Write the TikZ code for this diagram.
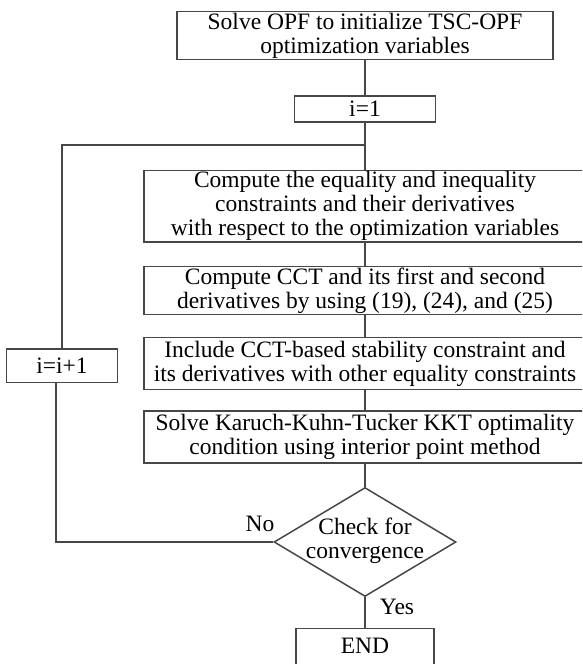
\documentclass[tikz,border=0pt]{standalone}
\usepackage{fontspec}
\setmainfont{Liberation Serif}
\usetikzlibrary{shapes.geometric}
\begin{document}
\begin{tikzpicture}[x=1pt,y=-1pt,
  line/.style={draw=black!72, line width=1.5pt},
  txt/.style={font=\fontsize{23.5}{24}\selectfont},
  stepbox/.style={line, txt, rectangle, inner sep=0pt, align=center},
  lbl/.style={txt, inner sep=0pt},
]
\useasboundingbox (0,0) rectangle (582,664);
\clip (0,0) rectangle (582,664);

% main column
\node[stepbox, minimum width=376pt, minimum height=47.6pt] (init) at (365,35.5)
  {Solve OPF to initialize TSC-OPF\\optimization variables};
\node[stepbox, minimum width=141pt, minimum height=25.7pt] (i1) at (365,108.9) {i=1};
\node[stepbox, minimum width=442pt, minimum height=71.5pt] (eq) at (365,206.3)
  {Compute the equality and inequality\\constraints and their derivatives\\with respect to the optimization variables};
\node[stepbox, minimum width=442pt, minimum height=48pt] (cct) at (365,290.5)
  {Compute CCT and its first and second\\derivatives by using (19), (24), and (25)};
\node[stepbox, minimum width=442pt, minimum height=52pt] (incl) at (365,363.5)
  {Include CCT-based stability constraint and\\its derivatives with other equality constraints};
\node[stepbox, minimum width=442pt, minimum height=52pt] (kkt) at (365,437)
  {Solve Karuch-Kuhn-Tucker KKT optimality\\condition using interior point method};
\node[line, txt, diamond, inner sep=0pt, shape aspect=1.67,
      minimum width=182pt, minimum height=109pt] (chk) at (365,542)
  {\raisebox{-6pt}[0pt][0pt]{\begin{tabular}{@{}c@{}}Check for\\convergence\end{tabular}}};
\node[stepbox, anchor=north, minimum width=138pt, text height=23pt, text depth=40pt,
      inner ysep=2.5pt] (end) at (365,627.5) {END};

% loop counter
\node[stepbox, minimum width=110.6pt, minimum height=33.7pt] (inc) at (62,365.8) {i=i+1};
\coordinate (join) at (365,145);

% labels
\node[lbl] (no) at (260,524) {No};
\node[lbl] (yes) at (397,607) {Yes};

% connectors
\draw[line] (init.south) -- (i1.north);
\draw[line] (i1.south) -- (eq.north);
\draw[line] (eq.south) -- (cct.north);
\draw[line] (cct.south) -- (incl.north);
\draw[line] (incl.south) -- (kkt.north);
\draw[line] (kkt.south) -- (chk.north);
\draw[line] (chk.south) -- (end.north);
\draw[line] (chk.west) -| ([xshift=-6pt]inc.south);
\draw[line] (inc.north) |- (join);
\end{tikzpicture}
\end{document}
